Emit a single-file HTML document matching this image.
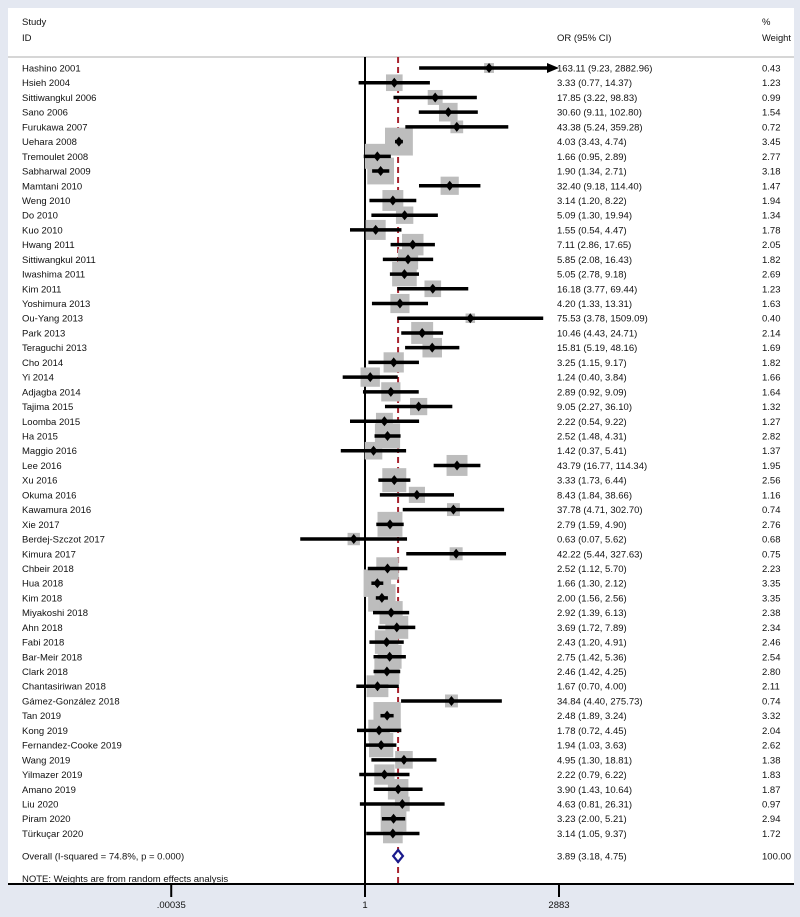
<!DOCTYPE html>
<html><head><meta charset="utf-8"><style>
html,body{margin:0;padding:0;background:#e4e8f1;}
svg{display:block;font-family:"Liberation Sans",Arial,sans-serif;}
text{font-size:9.5px;fill:#111;}
</style></head><body>
<svg id="chart" width="800" height="917" viewBox="0 0 800 917" xmlns="http://www.w3.org/2000/svg">
<rect x="0" y="0" width="800" height="917" fill="#e4e8f1"/>
<rect x="8" y="8" width="786" height="876" fill="#ffffff"/>
<text x="22" y="25">Study</text>
<text x="22" y="41">ID</text>
<text x="557" y="41">OR (95% CI)</text>
<text x="762" y="25">%</text>
<text x="762" y="41" textLength="29" lengthAdjust="spacingAndGlyphs">Weight</text>
<line x1="8" y1="57" x2="794" y2="57" stroke="#c8c8c8" stroke-width="1.5"/>
<g id="marks"></g>
</svg>
<script>
const studies=["Hashino 2001","Hsieh 2004","Sittiwangkul 2006","Sano 2006","Furukawa 2007","Uehara 2008","Tremoulet 2008","Sabharwal 2009","Mamtani 2010","Weng 2010","Do 2010","Kuo 2010","Hwang 2011","Sittiwangkul 2011","Iwashima 2011","Kim 2011","Yoshimura 2013","Ou-Yang 2013","Park 2013","Teraguchi 2013","Cho 2014","Yi 2014","Adjagba 2014","Tajima 2015","Loomba 2015","Ha 2015","Maggio 2016","Lee 2016","Xu 2016","Okuma 2016","Kawamura 2016","Xie 2017","Berdej-Szczot 2017","Kimura 2017","Chbeir 2018","Hua 2018","Kim 2018","Miyakoshi 2018","Ahn 2018","Fabi 2018","Bar-Meir 2018","Clark 2018","Chantasiriwan 2018","Gámez-González 2018","Tan 2019","Kong 2019","Fernandez-Cooke 2019","Wang 2019","Yilmazer 2019","Amano 2019","Liu 2020","Piram 2020","Türkuçar 2020"];
const orVals=[163.11,3.33,17.85,30.60,43.38,4.03,1.66,1.90,32.40,3.14,5.09,1.55,7.11,5.85,5.05,16.18,4.20,75.53,10.46,15.81,3.25,1.24,2.89,9.05,2.22,2.52,1.42,43.79,3.33,8.43,37.78,2.79,0.63,42.22,2.52,1.66,2.00,2.92,3.69,2.43,2.75,2.46,1.67,34.84,2.48,1.78,1.94,4.95,2.22,3.90,4.63,3.23,3.14];
const lowVals=[9.23,0.77,3.22,9.11,5.24,3.43,0.95,1.34,9.18,1.20,1.30,0.54,2.86,2.08,2.78,3.77,1.33,3.78,4.43,5.19,1.15,0.40,0.92,2.27,0.54,1.48,0.37,16.77,1.73,1.84,4.71,1.59,0.07,5.44,1.12,1.30,1.56,1.39,1.72,1.20,1.42,1.42,0.70,4.40,1.89,0.72,1.03,1.30,0.79,1.43,0.81,2.00,1.05];
const highVals=[2882.96,14.37,98.83,102.80,359.28,4.74,2.89,2.71,114.40,8.22,19.94,4.47,17.65,16.43,9.18,69.44,13.31,1509.09,24.71,48.16,9.17,3.84,9.09,36.10,9.22,4.31,5.41,114.34,6.44,38.66,302.70,4.90,5.62,327.63,5.70,2.12,2.56,6.13,7.89,4.91,5.36,4.25,4.00,275.73,3.24,4.45,3.63,18.81,6.22,10.64,26.31,5.21,9.37];
const weights=[0.43,1.23,0.99,1.54,0.72,3.45,2.77,3.18,1.47,1.94,1.34,1.78,2.05,1.82,2.69,1.23,1.63,0.40,2.14,1.69,1.82,1.66,1.64,1.32,1.27,2.82,1.37,1.95,2.56,1.16,0.74,2.76,0.68,0.75,2.23,3.35,3.35,2.38,2.34,2.46,2.54,2.80,2.11,0.74,3.32,2.04,2.62,1.38,1.83,1.87,0.97,2.94,1.72];
const overall=[3.89,3.18,4.75];
const overallLabel="Overall  (I-squared = 74.8%, p = 0.000)";
const tickVals=[0.00035,1,2883];
const tickLabels=[".00035","1","2883"];

const NS="http://www.w3.org/2000/svg";
const g=document.getElementById('marks');
const X0=365,K=24.35,XMAX=Math.log(2883),XMIN=Math.log(0.00035);
function xs(v){let l=Math.log(v);l=Math.max(XMIN,Math.min(XMAX,l));return X0+l*K;}
function ys(i){return 68+i*14.72;}
function mk(t,a){const e=document.createElementNS(NS,t);for(const k in a)e.setAttribute(k,a[k]);g.appendChild(e);return e;}
const yTop=57,yAxis=884;
let e;
e=mk('line',{x1:X0,y1:yTop,x2:X0,y2:yAxis,stroke:'#000','stroke-width':2});


e=mk('line',{x1:xs(overall[0]),y1:yTop,x2:xs(overall[0]),y2:yAxis,stroke:'#a8232e','stroke-width':2,'stroke-dasharray':'6,4'});


studies.forEach((s,i)=>{
  const y=ys(i),side=Math.sqrt(weights[i])*15,cx=xs(orVals[i]);
  e=mk('rect',{x:cx-side/2,y:y-side/2,width:side,height:side,fill:'#bdbdbd'});
  
  
});
studies.forEach((s,i)=>{
  const y=ys(i),cx=xs(orVals[i]);
  const x1=xs(lowVals[i]),x2=xs(highVals[i]);
  const clipped=Math.log(highVals[i])>=XMAX-0.001;
  e=mk('line',{x1:x1,y1:y,x2:clipped?x2-8:x2,y2:y,stroke:'#000','stroke-width':3.5});
  
  
  if(clipped){
    e=mk('polygon',{points:`${x2},${y} ${x2-12},${y-5} ${x2-12},${y+5}`,fill:'#000'});
    
    
  }
  e=mk('polygon',{points:`${cx},${y-5} ${cx+4},${y} ${cx},${y+5} ${cx-4},${y}`,fill:'#000'});
  
  
  e=mk('text',{x:22,y:y+3.5});e.textContent=s;
  
  
  e=mk('text',{x:557,y:y+3.5});
  e.textContent=orVals[i].toFixed(2)+" ("+lowVals[i].toFixed(2)+", "+highVals[i].toFixed(2)+")";
  
  
  e=mk('text',{x:762,y:y+3.5});e.textContent=weights[i].toFixed(2);
  
  
});
const yo=856;
const ox=xs(overall[0]),ol=xs(overall[1]),oh=xs(overall[2]);
e=mk('polygon',{points:`${ox},${yo-6} ${oh},${yo} ${ox},${yo+6} ${ol},${yo}`,fill:'#fff',stroke:'#1a1a8c','stroke-width':2.2});


e=mk('text',{x:22,y:yo+3.5});e.textContent=overallLabel;


e=mk('text',{x:557,y:yo+3.5});e.textContent=overall[0].toFixed(2)+" ("+overall[1].toFixed(2)+", "+overall[2].toFixed(2)+")";


e=mk('text',{x:762,y:yo+3.5});e.textContent="100.00";


e=mk('text',{x:22,y:882,'font-size':'9px'});e.textContent="NOTE: Weights are from random effects analysis";


e=mk('line',{x1:8,y1:yAxis,x2:794,y2:yAxis,stroke:'#000','stroke-width':2});


tickVals.forEach((v,i)=>{
  const x=xs(v);
  e=mk('line',{x1:x,y1:yAxis,x2:x,y2:yAxis+13,stroke:'#000','stroke-width':2});
  
  
  e=mk('text',{x:x,y:yAxis+24,'text-anchor':'middle'});e.textContent=tickLabels[i];
  
  
});
</script>
</body></html>
